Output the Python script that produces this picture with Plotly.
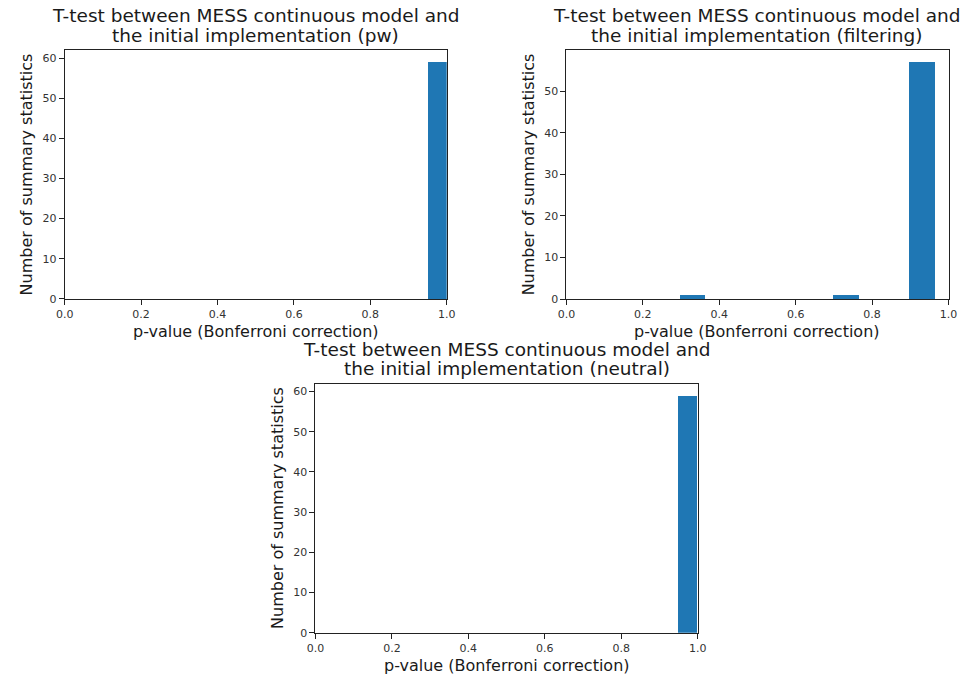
import plotly.graph_objects as go

# Histogram bin edges and counts for each comparison
pw_bin_edges = [0.50, 0.55, 0.60, 0.65, 0.70, 0.75, 0.80, 0.85, 0.90, 0.95, 1.00]
pw_counts = [0, 0, 0, 0, 0, 0, 0, 0, 0, 59]

filtering_bin_edges = [0.298, 0.365, 0.432, 0.499, 0.566, 0.632, 0.699, 0.766, 0.833, 0.899, 0.966]
filtering_counts = [1, 0, 0, 0, 0, 0, 1, 0, 0, 57]

neutral_bin_edges = [0.50, 0.55, 0.60, 0.65, 0.70, 0.75, 0.80, 0.85, 0.90, 0.95, 1.00]
neutral_counts = [0, 0, 0, 0, 0, 0, 0, 0, 0, 59]

title_line1 = "T-test between MESS continuous model and"
title_line2 = [
    "the initial implementation (pw)",
    "the initial implementation (filtering)",
    "the initial implementation (neutral)",
]
x_label = "p-value (Bonferroni correction)"
y_label = "Number of summary statistics"
x_ticks = [0.0, 0.2, 0.4, 0.6, 0.8, 1.0]

W, H = 969, 681
FONT = "DejaVu Sans"
BLUE = "#1f77b4"
TEXT = "#1a1a1a"

# plot-area boxes in pixels: (left, top, right, bottom)
boxes = [
    (56.7, 50.7, 446.0, 302.0),
    (568.0, 50.7, 957.3, 302.3),
    (312.3, 387.7, 701.7, 639.3),
]

panels = [
    (pw_bin_edges, pw_counts),
    (filtering_bin_edges, filtering_counts),
    (neutral_bin_edges, neutral_counts),
]

fig = go.Figure()
annotations = []


def label(text, x_px, y_px, size, angle=0):
    return dict(
        text=text, xref="paper", yref="paper",
        x=x_px / W, y=1 - y_px / H, xanchor="center", yanchor="middle",
        textangle=angle, showarrow=False,
        font=dict(family=FONT, size=size, color=TEXT),
    )


for i, ((edges, counts), box) in enumerate(zip(panels, boxes)):
    n = i + 1
    xa = "x" if n == 1 else f"x{n}"
    ya = "y" if n == 1 else f"y{n}"
    centers = [(a + b) / 2 for a, b in zip(edges[:-1], edges[1:])]
    widths = [b - a for a, b in zip(edges[:-1], edges[1:])]
    fig.add_trace(go.Bar(
        x=centers, y=counts, width=widths,
        marker=dict(color=BLUE, line=dict(width=0)),
        xaxis=xa, yaxis=ya, showlegend=False,
    ))

    l, t, r, b = box
    xdom = [l / W, r / W]
    ydom = [1 - b / H, 1 - t / H]
    ymax = max(counts) * 1.05
    axis_common = dict(
        showline=True, mirror=True, linecolor="#222222", linewidth=1,
        ticks="outside", ticklen=5, tickwidth=1, tickcolor="#222222",
        showgrid=False, zeroline=False,
        tickfont=dict(family=FONT, size=11, color="#333333"),
    )
    fig.update_layout(**{
        ("xaxis" if n == 1 else f"xaxis{n}"): dict(
            domain=xdom, range=[0, 1], anchor=ya,
            tickvals=x_ticks, ticktext=[f"{v:.1f}" for v in x_ticks],
            **axis_common),
        ("yaxis" if n == 1 else f"yaxis{n}"): dict(
            domain=ydom, range=[0, ymax], anchor=xa,
            dtick=10, **axis_common),
    })

    cx = (l + r) / 2
    annotations.append(label(title_line1, cx, t - 35, 18.5))
    annotations.append(label(title_line2[i], cx, t - 15, 18.5))
    annotations.append(label(x_label, cx, b + 33, 16))
    annotations.append(label(y_label, l - 38.5, (t + b) / 2, 16, angle=-90))

fig.update_layout(
    width=W, height=H,
    margin=dict(l=0, r=0, t=0, b=0),
    paper_bgcolor="white", plot_bgcolor="white",
    bargap=0, annotations=annotations,
    font=dict(family=FONT),
)

fig.write_html("out.html")
